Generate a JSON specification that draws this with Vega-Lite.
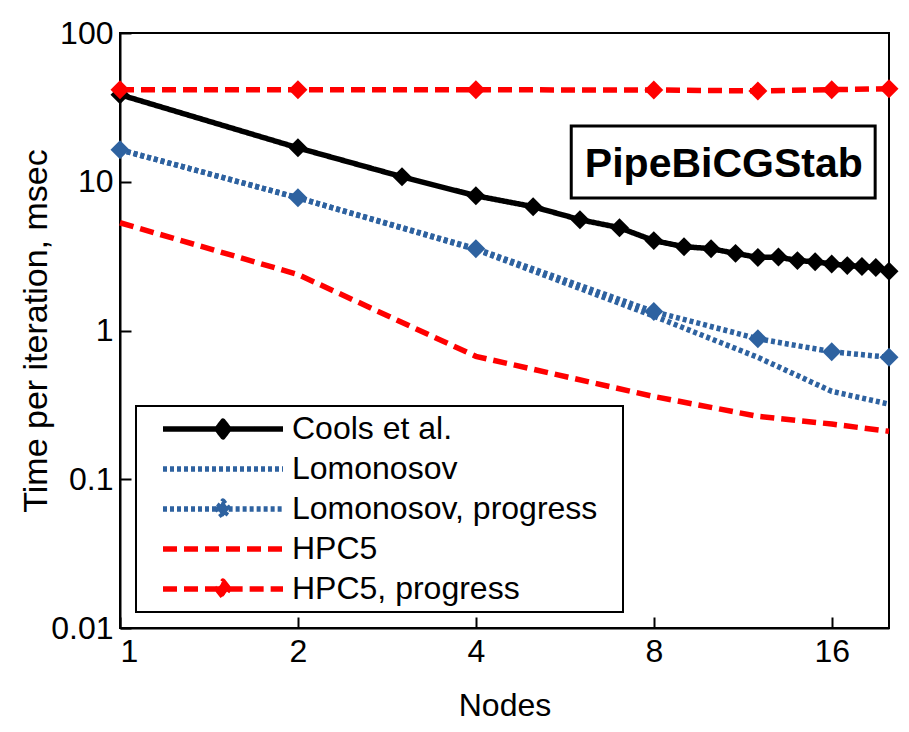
{
  "$schema": "https://vega.github.io/schema/vega-lite/v6.json",
  "width": 769,
  "height": 595,
  "autosize": {"type": "none"},
  "padding": {"left": 120, "top": 33, "right": 20, "bottom": 104},
  "background": "white",
  "datasets": {
    "perf": [
      {"nodes": 1, "time": 38.5, "series": "Cools et al."},
      {"nodes": 2, "time": 16.9, "series": "Cools et al."},
      {"nodes": 3, "time": 10.8, "series": "Cools et al."},
      {"nodes": 4, "time": 8.05, "series": "Cools et al."},
      {"nodes": 5, "time": 6.8, "series": "Cools et al."},
      {"nodes": 6, "time": 5.56, "series": "Cools et al."},
      {"nodes": 7, "time": 4.91, "series": "Cools et al."},
      {"nodes": 8, "time": 4.02, "series": "Cools et al."},
      {"nodes": 9, "time": 3.66, "series": "Cools et al."},
      {"nodes": 10, "time": 3.55, "series": "Cools et al."},
      {"nodes": 11, "time": 3.3, "series": "Cools et al."},
      {"nodes": 12, "time": 3.1, "series": "Cools et al."},
      {"nodes": 13, "time": 3.12, "series": "Cools et al."},
      {"nodes": 14, "time": 2.95, "series": "Cools et al."},
      {"nodes": 15, "time": 2.9, "series": "Cools et al."},
      {"nodes": 16, "time": 2.8, "series": "Cools et al."},
      {"nodes": 17, "time": 2.73, "series": "Cools et al."},
      {"nodes": 18, "time": 2.69, "series": "Cools et al."},
      {"nodes": 19, "time": 2.65, "series": "Cools et al."},
      {"nodes": 20, "time": 2.5, "series": "Cools et al."},
      {"nodes": 1, "time": 16.4, "series": "Lomonosov"},
      {"nodes": 2, "time": 7.8, "series": "Lomonosov"},
      {"nodes": 4, "time": 3.5, "series": "Lomonosov"},
      {"nodes": 8, "time": 1.25, "series": "Lomonosov"},
      {"nodes": 12, "time": 0.66, "series": "Lomonosov"},
      {"nodes": 16, "time": 0.39, "series": "Lomonosov"},
      {"nodes": 20, "time": 0.32, "series": "Lomonosov"},
      {"nodes": 1, "time": 16.4, "series": "Lomonosov, progress"},
      {"nodes": 2, "time": 7.8, "series": "Lomonosov, progress"},
      {"nodes": 4, "time": 3.55, "series": "Lomonosov, progress"},
      {"nodes": 8, "time": 1.34, "series": "Lomonosov, progress"},
      {"nodes": 12, "time": 0.88, "series": "Lomonosov, progress"},
      {"nodes": 16, "time": 0.72, "series": "Lomonosov, progress"},
      {"nodes": 20, "time": 0.66, "series": "Lomonosov, progress"},
      {"nodes": 1, "time": 5.3, "series": "HPC5"},
      {"nodes": 2, "time": 2.38, "series": "HPC5"},
      {"nodes": 4, "time": 0.67, "series": "HPC5"},
      {"nodes": 8, "time": 0.36, "series": "HPC5"},
      {"nodes": 12, "time": 0.265, "series": "HPC5"},
      {"nodes": 16, "time": 0.235, "series": "HPC5"},
      {"nodes": 20, "time": 0.21, "series": "HPC5"},
      {"nodes": 1, "time": 41.5, "series": "HPC5, progress"},
      {"nodes": 2, "time": 41.5, "series": "HPC5, progress"},
      {"nodes": 4, "time": 41.5, "series": "HPC5, progress"},
      {"nodes": 8, "time": 41.4, "series": "HPC5, progress"},
      {"nodes": 12, "time": 40.8, "series": "HPC5, progress"},
      {"nodes": 16, "time": 41.6, "series": "HPC5, progress"},
      {"nodes": 20, "time": 42.2, "series": "HPC5, progress"}
    ]
  },
  "layer": [
    {
      "data": {"name": "perf"},
      "mark": {"type": "line", "strokeWidth": 5.5, "clip": false},
      "encoding": {
        "x": {"field": "nodes", "type": "quantitative"},
        "y": {"field": "time", "type": "quantitative"},
        "color": {"field": "series", "type": "nominal"},
        "strokeDash": {"field": "series", "type": "nominal", "legend": null,
          "scale": {"domain": ["Cools et al.", "Lomonosov", "Lomonosov, progress", "HPC5", "HPC5, progress"],
                    "range": [[1, 0], [4, 3], [4, 3], [14, 7], [14, 7]]}}
      }
    },
    {
      "data": {"name": "perf"},
      "transform": [{"filter": "datum.series === 'Cools et al.' || datum.series === 'Lomonosov, progress' || datum.series === 'HPC5, progress'"}],
      "mark": {"type": "point", "shape": "diamond", "filled": true, "size": 360, "opacity": 1, "clip": false},
      "encoding": {
        "x": {"field": "nodes", "type": "quantitative"},
        "y": {"field": "time", "type": "quantitative"},
        "color": {"field": "series", "type": "nominal"}
      }
    },
    {
      "data": {"values": [{}]},
      "mark": {"type": "rect", "fill": "white", "stroke": "black", "strokeWidth": 3},
      "encoding": {
        "x": {"datum": 5.8},
        "x2": {"datum": 18.95},
        "y": {"datum": 23.7},
        "y2": {"datum": 7.78}
      }
    },
    {
      "data": {"values": [{"label": "PipeBiCGStab"}]},
      "mark": {"type": "text", "font": "Liberation Sans", "fontWeight": "bold", "fontSize": 41, "align": "center", "baseline": "alphabetic", "color": "black"},
      "encoding": {
        "x": {"datum": 10.51},
        "y": {"datum": 10.8},
        "text": {"field": "label"}
      }
    }
  ],
  "resolve": {"scale": {"x": "shared", "y": "shared"}},
  "encoding": {
    "x": {"type": "quantitative",
      "scale": {"type": "log", "domain": [1, 20], "nice": false, "zero": false},
      "axis": {"title": "Nodes", "values": [1, 2, 4, 8, 16], "format": "d", "labelPadding": 19, "titlePadding": 23, "titleFontSize": 32}},
    "y": {"type": "quantitative",
      "scale": {"type": "log", "domain": [0.01, 100], "nice": false, "zero": false},
      "axis": {"title": "Time per iteration, msec", "values": [0.01, 0.1, 1, 10, 100], "format": "~g", "labelPadding": 18, "titlePadding": -3, "titleFontSize": 34}},
    "color": {
      "scale": {"domain": ["Cools et al.", "Lomonosov", "Lomonosov, progress", "HPC5", "HPC5, progress"],
                "range": ["#000000", "#2e62a0", "#2e62a0", "#ff0000", "#ff0000"]},
      "legend": {
        "title": null,
        "orient": "bottom-left",
        "offset": 16,
        "padding": 3,
        "strokeColor": "black",
        "fillColor": "white",
        "labelFont": "Liberation Sans",
        "labelFontSize": 32,
        "labelColor": "black",
        "labelLimit": 500,
        "labelExpr": "datum.label + '\u2002\u2009\u200d'",
        "symbolSize": 14400,
        "symbolStrokeWidth": 5.5,
        "symbolOpacity": 1,
        "clipHeight": 40,
        "symbolOffset": 21,
        "labelOffset": 6,
        "rowPadding": 0,
        "cornerRadius": 0,
        "encode": {
          "symbols": {
            "update": {
              "shape": {"signal": "indexof(['Cools et al.', 'Lomonosov, progress', 'HPC5, progress'], datum.value) >= 0 ? 'M-1,0L-0.1,0L0,-0.13L0.1,0L0,0.13L-0.1,0L0.1,0L1,0' : 'M-1,0L1,0'"},
              "fill": {"scale": "color", "field": "value"},
              "stroke": {"scale": "color", "field": "value"},
              "strokeDash": {"signal": "datum.value === 'Cools et al.' ? [1, 0] : datum.value === 'Lomonosov' ? [4, 3] : datum.value === 'HPC5' ? [14, 7] : datum.value === 'Lomonosov, progress' ? [4,3,4,3,4,3,4,3,4,3,4,3,4,3,57,3,4,3,4,3,4,3,4,3,4,3,4,3,4,3,4,3] : [14,6,14,6,66,6,14,6,14,6,14,6]"},
              "strokeWidth": {"value": 5.5},
              "strokeJoin": {"value": "round"},
              "opacity": {"value": 1}
            }
          }
        }
      }
    }
  },
  "config": {
    "font": "Liberation Sans",
    "view": {"stroke": "black", "strokeWidth": 2},
    "axis": {
      "grid": false,
      "domainColor": "black",
      "domainWidth": 2,
      "tickColor": "black",
      "tickWidth": 2,
      "tickSize": -11,
      "labelFont": "Liberation Sans",
      "labelFontSize": 32,
      "labelColor": "black",
      "titleFont": "Liberation Sans",
      "titleFontSize": 32,
      "titleFontWeight": "normal",
      "titleColor": "black"
    },
    "legend": {"strokeWidth": 2}
  }
}
